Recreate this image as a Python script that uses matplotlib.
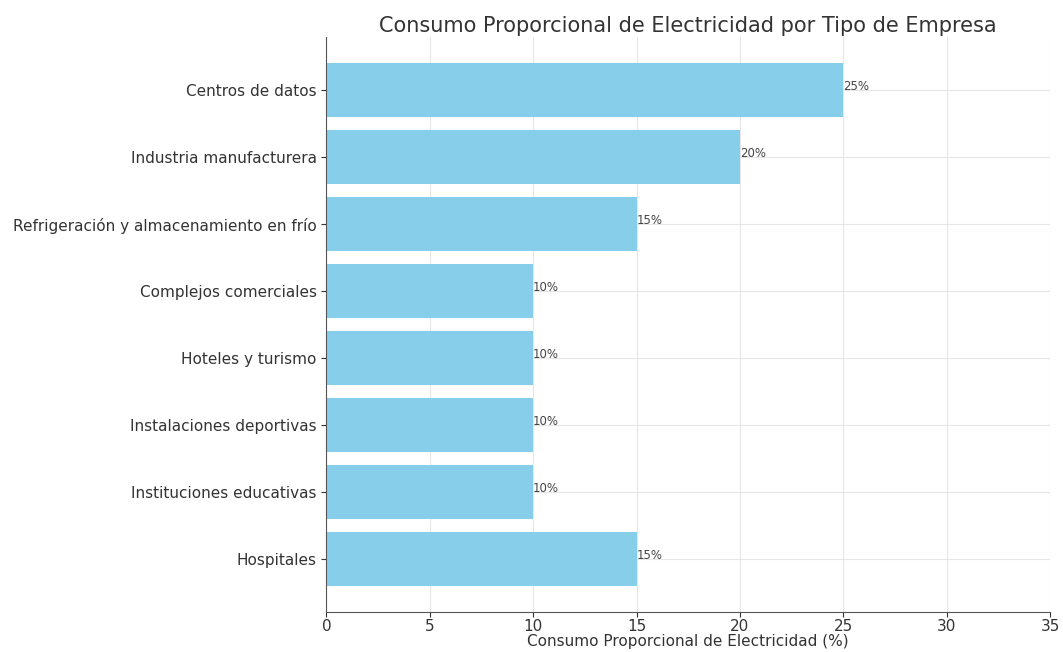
import matplotlib.pyplot as plt

# ============ DATA ============
categories = [
    "Centros de datos",
    "Industria manufacturera",
    "Refrigeración y almacenamiento en frío",
    "Complejos comerciales",
    "Hoteles y turismo",
    "Instalaciones deportivas",
    "Instituciones educativas",
    "Hospitales",
]
values = [25, 20, 15, 10, 10, 10, 10, 15]
xticks = [0, 5, 10, 15, 20, 25, 30, 35]

fig = plt.figure(figsize=(10.63, 6.52), dpi=100)
ax = fig.add_axes([0.307, 0.061, 0.681, 0.882])

ax.barh(categories, values, color="skyblue", height=0.8, zorder=2)
ax.invert_yaxis()
ax.set_xlim(0, 35)
ax.set_xticks(xticks)

for i, v in enumerate(values):
    ax.text(v, i - 0.05, f"{v}%", va="center", ha="left", fontsize=8.5, color="#444444")

ax.set_title("Consumo Proporcional de Electricidad por Tipo de Empresa",
             fontsize=15, color="#333333", pad=4)
ax.set_xlabel("Consumo Proporcional de Electricidad (%)", fontsize=11,
              color="#333333", labelpad=0)

ax.grid(True, color="#e6e6e6", linewidth=0.8, zorder=0)
ax.set_axisbelow(True)
for s in ["top", "right"]:
    ax.spines[s].set_visible(False)
ax.spines["left"].set_color("#555555")
ax.spines["bottom"].set_color("#555555")
ax.tick_params(colors="#333333", labelsize=11)
ax.tick_params(axis="x", pad=1.5)

fig.savefig("out.png", dpi=100)
